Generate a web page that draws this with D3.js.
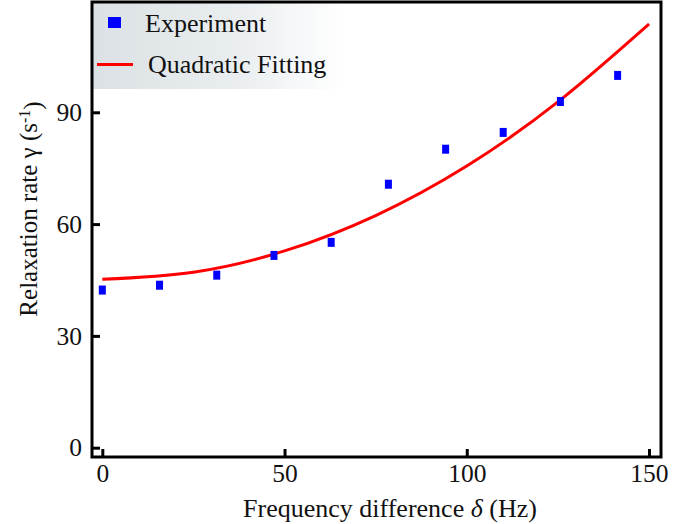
<!DOCTYPE html>
<html>
<head>
<meta charset="utf-8">
<script src="https://cdn.jsdelivr.net/npm/d3@7"></script>
<style>
  body { margin: 0; background: #fff; }
  text { font-family: "Liberation Serif", "Times New Roman", serif; fill: #111; }
</style>
</head>
<body>
<svg id="chart"></svg>
<script>
// Measured points (frequency difference in Hz, relaxation rate in 1/s)
const freq = [0, 15.7, 31.4, 47.1, 62.8, 78.5, 94.2, 110, 125.7, 141.4];
const rate = [42.3, 43.6, 46.3, 51.6, 55.1, 70.7, 80.1, 84.6, 92.9, 99.9];

// Fitted curve
const fitFreq = [0, 25, 50, 75, 100, 125, 150];
const fitRate = [45.2, 47.1, 52.8, 62.3, 75.6, 92.8, 113.7];

const xTicks = [0, 50, 100, 150];
const yTicks = [0, 30, 60, 90];

const width = 693;
const height = 524;
const plotL = 92, plotR = 661, plotT = 2, plotB = 457;

const svg = d3.select("#chart")
    .attr("width", width)
    .attr("height", height);

// Scales
const xScale = d3.scaleLinear()
    .domain([-2.83, 153.3])
    .range([plotL, plotR]);

const yScale = d3.scaleLinear()
    .domain([-2.5, 119.6])
    .range([plotB, plotT]);

// Legend background gradient
const grad = svg.append("defs").append("linearGradient")
    .attr("id", "legbg")
    .attr("x1", "0%").attr("x2", "100%");
grad.append("stop").attr("offset", "0%").attr("stop-color", "#dbe1e4");
grad.append("stop").attr("offset", "55%").attr("stop-color", "#e9edef");
grad.append("stop").attr("offset", "100%").attr("stop-color", "#ffffff");

svg.append("rect")
    .attr("x", plotL)
    .attr("y", plotT)
    .attr("width", 255)
    .attr("height", 87)
    .attr("fill", "url(#legbg)");

// Fit curve
const line = d3.line()
    .x(d => xScale(d[0]))
    .y(d => yScale(d[1]))
    .curve(d3.curveNatural);

svg.append("path")
    .datum(fitFreq.map((f, i) => [f, fitRate[i]]))
    .attr("d", line)
    .attr("fill", "none")
    .attr("stroke", "#ff0000")
    .attr("stroke-width", 3);

// Points
svg.selectAll(".dot")
    .data(freq)
    .enter()
    .append("rect")
    .attr("class", "dot")
    .attr("x", d => xScale(d) - 3.5)
    .attr("y", (d, i) => yScale(rate[i]) - 4.5)
    .attr("width", 7)
    .attr("height", 9)
    .attr("fill", "#0000ff");

// X axis (ticks point inward)
const xAxis = d3.axisBottom(xScale)
    .tickValues(xTicks)
    .tickSizeInner(-8)
    .tickSizeOuter(0)
    .tickPadding(7);
const gx = svg.append("g")
    .attr("transform", `translate(0, ${plotB})`)
    .call(xAxis);

// Y axis
const yAxis = d3.axisLeft(yScale)
    .tickValues(yTicks)
    .tickSizeInner(-8)
    .tickSizeOuter(0)
    .tickPadding(10);
const gy = svg.append("g")
    .attr("transform", `translate(${plotL}, 0)`)
    .call(yAxis);

[gx, gy].forEach(g => {
    g.select(".domain").remove();
    g.selectAll("line").attr("stroke", "#000").attr("stroke-width", 3);
    g.selectAll("text")
        .style("font-family", '"Liberation Serif", "Times New Roman", serif')
        .style("font-size", "25.5px")
        .attr("fill", "#111");
});

// Frame
svg.append("rect")
    .attr("x", plotL)
    .attr("y", plotT)
    .attr("width", plotR - plotL)
    .attr("height", plotB - plotT)
    .attr("fill", "none")
    .attr("stroke", "#000")
    .attr("stroke-width", 3);

// Legend
svg.append("rect")
    .attr("x", 108).attr("y", 17)
    .attr("width", 13).attr("height", 11)
    .attr("fill", "#0000ff");
svg.append("text")
    .attr("x", 145).attr("y", 32)
    .style("font-size", "26px")
    .text("Experiment");

svg.append("line")
    .attr("x1", 97).attr("x2", 133)
    .attr("y1", 64.5).attr("y2", 64.5)
    .attr("stroke", "#ff0000")
    .attr("stroke-width", 3);
svg.append("text")
    .attr("x", 148).attr("y", 73)
    .style("font-size", "26px")
    .text("Quadratic Fitting");

// X label
const xl = svg.append("text")
    .attr("x", 390)
    .attr("y", 517)
    .attr("text-anchor", "middle")
    .style("font-size", "26px");
xl.append("tspan").text("Frequency difference ");
xl.append("tspan").style("font-style", "italic").text("δ");
xl.append("tspan").text(" (Hz)");

// Y label
const yl = svg.append("text")
    .attr("transform", "translate(37, 209) rotate(-90)")
    .attr("text-anchor", "middle")
    .style("font-size", "25px");
yl.append("tspan").text("Relaxation rate γ (s");
yl.append("tspan").attr("dy", "-0.45em").style("font-size", "16px").text("-1");
yl.append("tspan").attr("dy", "0.45em").text(")");
</script>
</body>
</html>
